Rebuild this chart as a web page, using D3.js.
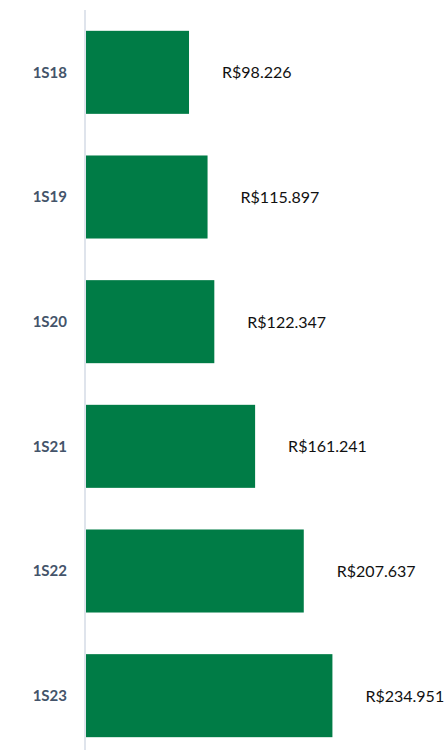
<!DOCTYPE html>
<html lang="pt-BR">
<head>
    <meta charset="UTF-8">
    <title>Receita por semestre</title>
    <script src="https://d3js.org/d3.v7.min.js"></script>
    <style>
        body { margin: 0; background: #fff; }
    </style>
</head>
<body>

<div id="chart"></div>

<script>
    // data
    var periods = ["1S18", "1S19", "1S20", "1S21", "1S22", "1S23"];
    var values = [98.226, 115.897, 122.347, 161.241, 207.637, 234.951];
    var valueLabels = ["R$98.226", "R$115.897", "R$122.347", "R$161.241", "R$207.637", "R$234.951"];

    var width = 445,
        height = 750;
    var axisX = 86;

    var svg = d3.select("#chart")
        .append("svg")
            .attr("width", width)
            .attr("height", height);

    var x = d3.scaleLinear()
        .domain([0, 250])
        .range([axisX, axisX + 262.2]);

    var y = d3.scaleBand()
        .domain(periods)
        .range([10, 758])
        .paddingInner(0.334)
        .paddingOuter(0.167);

    var rows = periods.map(function (p, i) {
        return {period: p, value: values[i], label: valueLabels[i]};
    });

    // vertical category axis line
    svg.append("line")
        .attr("x1", axisX - 1)
        .attr("x2", axisX - 1)
        .attr("y1", 10)
        .attr("y2", height)
        .style("stroke", "#dfe4ec")
        .style("stroke-width", 2);

    svg.selectAll("rect.bar")
        .data(rows)
        .enter()
        .append("rect")
            .attr("class", "bar")
            .attr("x", x(0))
            .attr("y", function (d) { return y(d.period); })
            .attr("width", function (d) { return x(d.value) - x(0); })
            .attr("height", y.bandwidth())
            .style("fill", "#007c46");

    // category labels
    svg.selectAll("text.cat")
        .data(rows)
        .enter()
        .append("text")
            .attr("class", "cat")
            .attr("x", axisX - 19)
            .attr("y", function (d) { return y(d.period) + y.bandwidth() / 2; })
            .attr("dy", "0.36em")
            .attr("text-anchor", "end")
            .style("font-family", "Lato, 'Open Sans', sans-serif")
            .style("font-weight", "bold")
            .style("font-size", "15px")
            .style("fill", "#44546a")
            .text(function (d) { return d.period; });

    // value labels
    svg.selectAll("text.val")
        .data(rows)
        .enter()
        .append("text")
            .attr("class", "val")
            .attr("x", function (d) { return x(d.value) + 33; })
            .attr("y", function (d) { return y(d.period) + y.bandwidth() / 2; })
            .attr("dy", "0.38em")
            .style("font-family", "Lato, 'Open Sans', sans-serif")
            .style("font-size", "16px")
            .style("fill", "#111")
            .text(function (d) { return d.label; });
</script>

</body>
</html>
